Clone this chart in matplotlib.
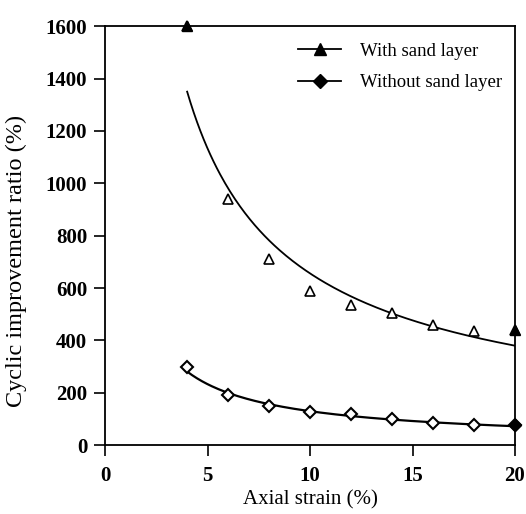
import numpy as np
import matplotlib
matplotlib.use("Agg")
import matplotlib.pyplot as plt

plt.rcParams["font.family"] = ["Liberation Serif", "DejaVu Serif"]

# measured points
strain = [4, 6, 8, 10, 12, 14, 16, 18, 20]
with_sand = [1600, 940, 710, 590, 535, 505, 460, 435, 440]
without_sand = [300, 190, 150, 125, 120, 100, 85, 75, 75]

# power-law trend lines y = a * x^b
with_fit = (4025, -0.788)
without_fit = (905, -0.844)
fit_range = (4, 20)

fig = plt.figure(figsize=(5.26, 5.14), dpi=100)
ax = fig.add_axes([0.2, 0.134, 0.779, 0.815])

xs = np.linspace(*fit_range, 200)
ax.plot(xs, with_fit[0] * xs ** with_fit[1], color="k", lw=1.3, zorder=2)
ax.plot(xs, without_fit[0] * xs ** without_fit[1], color="k", lw=1.6, zorder=2)

ax.plot(strain, with_sand, ls="none", marker="^", ms=7, mfc="white", mec="k", mew=1.2, clip_on=False, zorder=3)
ax.plot(strain, without_sand, ls="none", marker="D", ms=6, mfc="white", mec="k", mew=1.5, clip_on=False, zorder=3)
# points sitting on the frame print solid
ax.plot([strain[0], strain[-1]], [with_sand[0], with_sand[-1]], ls="none", marker="^", ms=7, color="k", clip_on=False, zorder=4)
ax.plot(strain[-1], without_sand[-1], ls="none", marker="D", ms=6, color="k", clip_on=False, zorder=4)

# legend entries
h1, = ax.plot([], [], color="k", lw=1.3, marker="^", ms=8, mfc="k", mec="k")
h2, = ax.plot([], [], color="k", lw=1.3, marker="D", ms=7, mfc="k", mec="k")
ax.legend([h1, h2], ["With sand layer", "Without sand layer"], loc="upper right",
          bbox_to_anchor=(1.015, 1.005), frameon=False, fontsize=13.5,
          handlelength=2.3, handletextpad=1.0, borderaxespad=0.6, labelspacing=0.75)

ax.set_xlim(0, 20)
ax.set_ylim(0, 1600)
ax.set_xticks([0, 5, 10, 15, 20])
ax.set_yticks(range(0, 1601, 200))
ax.tick_params(direction="out", length=8, width=1.2, labelsize=15, top=False, right=False)
ax.tick_params(axis="x", pad=7)
ax.tick_params(axis="y", pad=5)
for lab in ax.get_xticklabels() + ax.get_yticklabels():
    lab.set_fontweight("bold")
for s in ax.spines.values():
    s.set_linewidth(1.3)

ax.set_xlabel("Axial strain (%)", fontsize=15, labelpad=3)
ax.set_ylabel("Cyclic improvement ratio (%)", fontsize=17.5)
ax.yaxis.set_label_coords(-0.19, 0.44)

fig.savefig("out.png", dpi=100)
